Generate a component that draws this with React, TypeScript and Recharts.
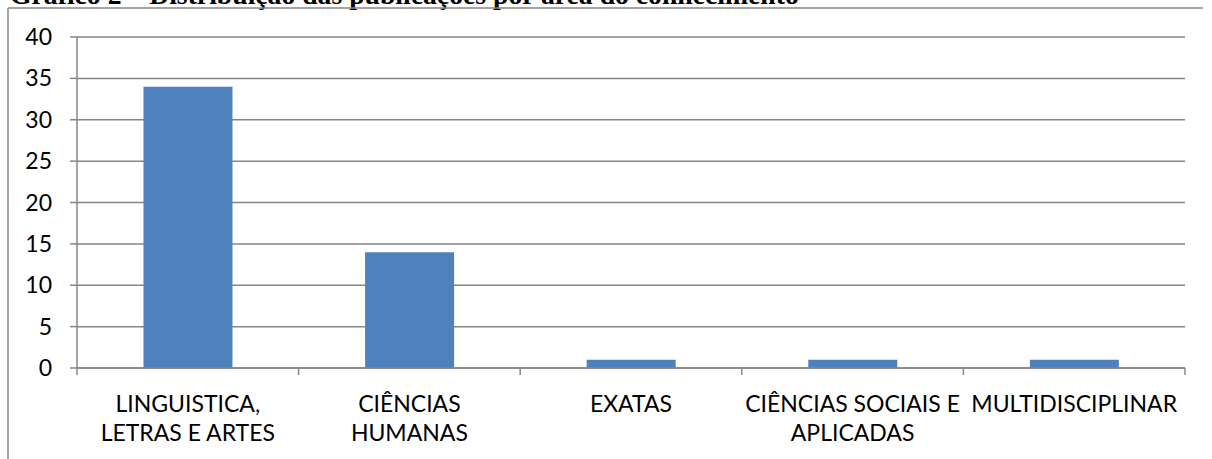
import React from "react";
import { BarChart, Bar, XAxis, YAxis, CartesianGrid } from "recharts";

const categories = [
  "LINGUISTICA,\nLETRAS E ARTES",
  "CIÊNCIAS\nHUMANAS",
  "EXATAS",
  "CIÊNCIAS SOCIAIS E\nAPLICADAS",
  "MULTIDISCIPLINAR",
];
const publicacoes = [34, 14, 1, 1, 1];
const yTicks = [0, 5, 10, 15, 20, 25, 30, 35, 40];
const title = "Gráfico 2 – Distribuição das publicações por área do conhecimento";

const data = categories.map((c, i) => ({ name: c, value: publicacoes[i] }));

const W = 1212;
const H = 459;
const margin = { top: 37, right: 27, bottom: 0, left: 0 };
const yAxisWidth = 77;
const xAxisHeight = 91;
const plotWidth = W - margin.left - margin.right - yAxisWidth;
const band = plotWidth / categories.length;

const FONT = "Lato, 'Open Sans', sans-serif";
const AXIS = "#868686";

const XTick = (props: any) => {
  const { x, y, payload, index } = props;
  const lines = String(payload.value).split("\n");
  const isLast = index === categories.length - 1;
  return (
    <g>
      <line x1={x - band / 2} x2={x - band / 2} y1={y - 8} y2={y - 1} stroke={AXIS} strokeWidth={1.5} />
      {isLast && (
        <line x1={x + band / 2} x2={x + band / 2} y1={y - 8} y2={y - 1} stroke={AXIS} strokeWidth={1.5} />
      )}
      {lines.map((l: string, i: number) => (
        <text
          key={i}
          x={x}
          y={y + 36 + i * 29}
          textAnchor="middle"
          fontFamily={FONT}
          fontSize={23}
          fill="#000"
        >
          {l}
        </text>
      ))}
    </g>
  );
};

const YTick = (props: any) => {
  const { x, y, payload } = props;
  return (
    <text x={x} y={y + 8} textAnchor="end" fontFamily={FONT} fontSize={23} fill="#000">
      {payload.value}
    </text>
  );
};

export default function App() {
  return (
    <div style={{ position: "absolute", left: 0, top: 0, width: W, height: H, background: "#fff", overflow: "hidden" }}>
      <BarChart width={W} height={H} data={data} margin={margin} barCategoryGap="30%">
        <CartesianGrid vertical={false} stroke={AXIS} strokeWidth={1.5} />
        <XAxis
          dataKey="name"
          height={xAxisHeight}
          axisLine={{ stroke: AXIS, strokeWidth: 1.5 }}
          tickLine={false}
          interval={0}
          tick={<XTick />}
        />
        <YAxis
          width={yAxisWidth}
          domain={[0, 40]}
          ticks={yTicks}
          interval={0}
          axisLine={{ stroke: AXIS, strokeWidth: 1.5 }}
          tickLine={{ stroke: AXIS, strokeWidth: 1.5 }}
          tickSize={7}
          tickMargin={18}
          tick={<YTick />}
        />
        <Bar dataKey="value" fill="#4F81BD" isAnimationActive={false} />
      </BarChart>
      <svg width={W} height={H} style={{ position: "absolute", left: 0, top: 0, pointerEvents: "none" }}>
        <text x={10} y={4} fontFamily="'Liberation Serif', serif" fontWeight="bold" fontSize={27.7} fill="#000">
          {title}
        </text>
        <line x1={8} x2={1203} y1={8} y2={8} stroke={AXIS} strokeWidth={1.5} />
        <line x1={8} x2={8} y1={8} y2={H} stroke={AXIS} strokeWidth={1.5} />
      </svg>
    </div>
  );
}
